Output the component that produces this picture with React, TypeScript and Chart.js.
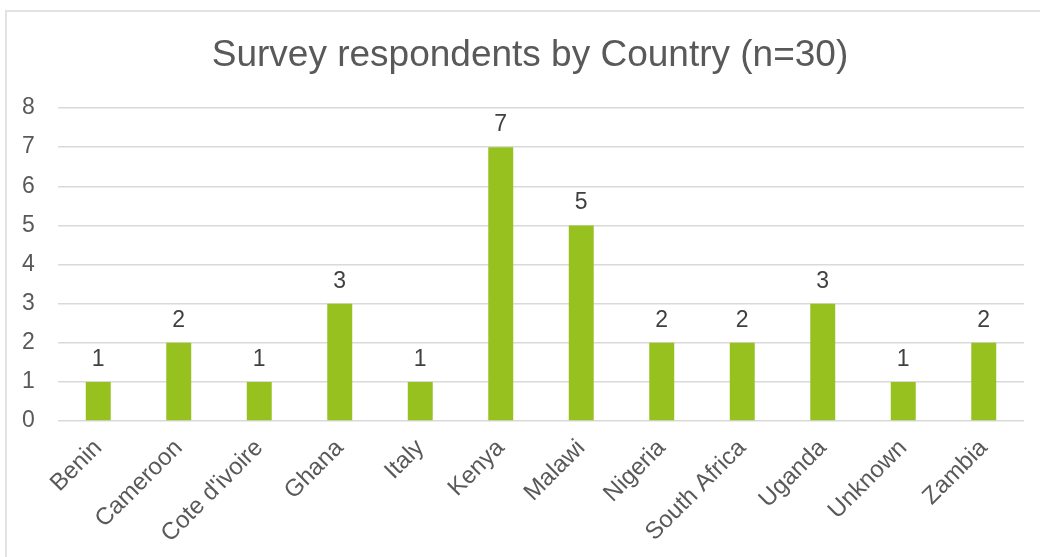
import React, { useEffect, useRef } from "react";
import { Chart, registerables } from "chart.js";

Chart.register(...registerables);

const TITLE = "Survey respondents by Country (n=30)";
const categories = [
  "Benin",
  "Cameroon",
  "Cote d'ivoire",
  "Ghana",
  "Italy",
  "Kenya",
  "Malawi",
  "Nigeria",
  "South Africa",
  "Uganda",
  "Unknown",
  "Zambia",
];
const respondents = [1, 2, 1, 3, 1, 7, 5, 2, 2, 3, 1, 2];
const yMin = 0;
const yMax = 8;
const yStep = 1;

const FONT = "'Liberation Sans', Arial, sans-serif";

const dataLabelPlugin = {
  id: "dataLabels",
  afterDatasetsDraw(chart: any) {
    const ctx = chart.ctx;
    const meta = chart.getDatasetMeta(0);
    const ds = chart.data.datasets[0];
    ctx.save();
    ctx.font = `23px ${FONT}`;
    ctx.fillStyle = "#404040";
    ctx.textAlign = "center";
    ctx.textBaseline = "alphabetic";
    meta.data.forEach((bar: any, i: number) => {
      ctx.fillText(String(ds.data[i]), bar.x, bar.y - 16);
    });
    ctx.restore();
  },
};

export default function App() {
  const ref = useRef<HTMLCanvasElement>(null);
  useEffect(() => {
    if (!ref.current) return;
    const chart = new Chart(ref.current, {
      type: "bar",
      data: {
        labels: categories,
        datasets: [
          {
            data: respondents,
            backgroundColor: "#96c11f",
            borderWidth: 0,
            barPercentage: 0.31,
            categoryPercentage: 1,
          },
        ],
      },
      options: {
        responsive: false,
        animation: false,
        maintainAspectRatio: false,
        layout: { padding: { left: 36, right: 16, top: 0, bottom: 0 } },
        plugins: {
          legend: { display: false },
          tooltip: { enabled: false },
          title: {
            display: true,
            text: TITLE,
            color: "#595959",
            font: { family: FONT, size: 37, weight: "normal" as any, lineHeight: 1.2 },
            padding: { top: 34, bottom: 29.6 },
          },
        },
        scales: {
          x: {
            grid: { display: false, drawTicks: false },
            border: { display: false },
            ticks: {
              color: "#595959",
              font: { family: FONT, size: 24 },
              minRotation: 45,
              maxRotation: 45,
              autoSkip: false,
              padding: 13,
            },
            afterFit(scale: any) {
              scale.height = 136;
            },
          },
          y: {
            min: yMin,
            max: yMax,
            grid: { color: "#d9d9d9", lineWidth: 1.5, drawTicks: false },
            border: { display: false },
            ticks: {
              stepSize: yStep,
              color: "#595959",
              font: { family: FONT, size: 23 },
              mirror: true,
              crossAlign: "near",
              padding: -36,
            },
            afterFit(scale: any) {
              scale.width = 22;
            },
          },
        },
      },
      plugins: [dataLabelPlugin],
    });
    return () => chart.destroy();
  }, []);

  return (
    <div
      style={{
        position: "absolute",
        left: 0,
        top: 0,
        width: 1040,
        height: 557,
        overflow: "hidden",
        background: "#ffffff",
      }}
    >
      <div
        style={{
          position: "absolute",
          left: 5,
          top: 10,
          width: 1100,
          height: 700,
          border: "2px solid #e2e2e2",
        }}
      />
      <canvas
        ref={ref}
        width={1040}
        height={557}
        style={{ position: "absolute", left: 0, top: 0, width: 1040, height: 557 }}
      />
    </div>
  );
}
